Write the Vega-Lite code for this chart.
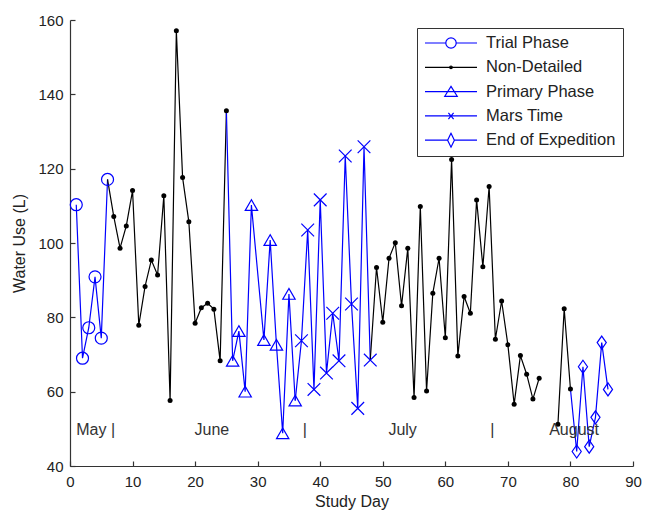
{
  "$schema": "https://vega.github.io/schema/vega-lite/v6.json",
  "width": 563,
  "height": 446,
  "autosize": {"type": "none"},
  "padding": {"left": 70, "top": 20, "right": 13, "bottom": 46},
  "background": "white",
  "config": {
    "view": {"stroke": null},
    "font": "Liberation Sans",
    "axis": {
      "domainColor": "#333",
      "tickColor": "#333",
      "labelColor": "#222",
      "titleColor": "#222",
      "labelFont": "Liberation Sans",
      "titleFont": "Liberation Sans",
      "labelFontSize": 15,
      "titleFontSize": 16,
      "titleFontWeight": "normal",
      "grid": false,
      "tickSize": -5,
      "domainWidth": 1.2,
      "tickWidth": 1.2
    }
  },
  "datasets": {
    "pts": [
      {"day": 1, "use": 110.3, "phase": "Trial Phase"},
      {"day": 2, "use": 69, "phase": "Trial Phase"},
      {"day": 3, "use": 77.2, "phase": "Trial Phase"},
      {"day": 4, "use": 90.9, "phase": "Trial Phase"},
      {"day": 5, "use": 74.4, "phase": "Trial Phase"},
      {"day": 6, "use": 117.1, "phase": "Trial Phase"},
      {"day": 7, "use": 107.1, "phase": "Non-Detailed"},
      {"day": 8, "use": 98.6, "phase": "Non-Detailed"},
      {"day": 9, "use": 104.6, "phase": "Non-Detailed"},
      {"day": 10, "use": 114.1, "phase": "Non-Detailed"},
      {"day": 11, "use": 77.9, "phase": "Non-Detailed"},
      {"day": 12, "use": 88.3, "phase": "Non-Detailed"},
      {"day": 13, "use": 95.4, "phase": "Non-Detailed"},
      {"day": 14, "use": 91.4, "phase": "Non-Detailed"},
      {"day": 15, "use": 112.7, "phase": "Non-Detailed"},
      {"day": 16, "use": 57.6, "phase": "Non-Detailed"},
      {"day": 17, "use": 157.1, "phase": "Non-Detailed"},
      {"day": 18, "use": 117.6, "phase": "Non-Detailed"},
      {"day": 19, "use": 105.7, "phase": "Non-Detailed"},
      {"day": 20, "use": 78.4, "phase": "Non-Detailed"},
      {"day": 21, "use": 82.6, "phase": "Non-Detailed"},
      {"day": 22, "use": 83.8, "phase": "Non-Detailed"},
      {"day": 23, "use": 82.2, "phase": "Non-Detailed"},
      {"day": 24, "use": 68.3, "phase": "Non-Detailed"},
      {"day": 25, "use": 135.6, "phase": "Non-Detailed"},
      {"day": 26, "use": 68.3, "phase": "Primary Phase"},
      {"day": 27, "use": 76.3, "phase": "Primary Phase"},
      {"day": 28, "use": 60, "phase": "Primary Phase"},
      {"day": 29, "use": 110.2, "phase": "Primary Phase"},
      {"day": 31, "use": 73.9, "phase": "Primary Phase"},
      {"day": 32, "use": 100.8, "phase": "Primary Phase"},
      {"day": 33, "use": 72.6, "phase": "Primary Phase"},
      {"day": 34, "use": 48.8, "phase": "Primary Phase"},
      {"day": 35, "use": 86.3, "phase": "Primary Phase"},
      {"day": 36, "use": 57.6, "phase": "Primary Phase"},
      {"day": 37, "use": 73.7, "phase": "Mars Time"},
      {"day": 38, "use": 103.5, "phase": "Mars Time"},
      {"day": 39, "use": 60.6, "phase": "Mars Time"},
      {"day": 40, "use": 111.6, "phase": "Mars Time"},
      {"day": 41, "use": 65, "phase": "Mars Time"},
      {"day": 42, "use": 81.1, "phase": "Mars Time"},
      {"day": 43, "use": 68.3, "phase": "Mars Time"},
      {"day": 44, "use": 123.4, "phase": "Mars Time"},
      {"day": 45, "use": 83.6, "phase": "Mars Time"},
      {"day": 46, "use": 55.5, "phase": "Mars Time"},
      {"day": 47, "use": 125.9, "phase": "Mars Time"},
      {"day": 48, "use": 68.5, "phase": "Mars Time"},
      {"day": 49, "use": 93.4, "phase": "Non-Detailed"},
      {"day": 50, "use": 78.7, "phase": "Non-Detailed"},
      {"day": 51, "use": 95.9, "phase": "Non-Detailed"},
      {"day": 52, "use": 100.1, "phase": "Non-Detailed"},
      {"day": 53, "use": 83.1, "phase": "Non-Detailed"},
      {"day": 54, "use": 98.6, "phase": "Non-Detailed"},
      {"day": 55, "use": 58.4, "phase": "Non-Detailed"},
      {"day": 56, "use": 109.8, "phase": "Non-Detailed"},
      {"day": 57, "use": 60.2, "phase": "Non-Detailed"},
      {"day": 58, "use": 86.5, "phase": "Non-Detailed"},
      {"day": 59, "use": 95.9, "phase": "Non-Detailed"},
      {"day": 60, "use": 74.5, "phase": "Non-Detailed"},
      {"day": 61, "use": 122.5, "phase": "Non-Detailed"},
      {"day": 62, "use": 69.6, "phase": "Non-Detailed"},
      {"day": 63, "use": 85.6, "phase": "Non-Detailed"},
      {"day": 64, "use": 81.1, "phase": "Non-Detailed"},
      {"day": 65, "use": 111.6, "phase": "Non-Detailed"},
      {"day": 66, "use": 93.6, "phase": "Non-Detailed"},
      {"day": 67, "use": 115.2, "phase": "Non-Detailed"},
      {"day": 68, "use": 74.1, "phase": "Non-Detailed"},
      {"day": 69, "use": 84.4, "phase": "Non-Detailed"},
      {"day": 70, "use": 72.6, "phase": "Non-Detailed"},
      {"day": 71, "use": 56.6, "phase": "Non-Detailed"},
      {"day": 72, "use": 69.7, "phase": "Non-Detailed"},
      {"day": 73, "use": 64.7, "phase": "Non-Detailed"},
      {"day": 74, "use": 58, "phase": "Non-Detailed"},
      {"day": 75, "use": 63.6, "phase": "Non-Detailed"},
      {"day": 78, "use": 51.2, "phase": "Non-Detailed"},
      {"day": 79, "use": 82.3, "phase": "Non-Detailed"},
      {"day": 80, "use": 60.7, "phase": "Non-Detailed"},
      {"day": 81, "use": 43.9, "phase": "End of Expedition"},
      {"day": 82, "use": 66.7, "phase": "End of Expedition"},
      {"day": 83, "use": 45.2, "phase": "End of Expedition"},
      {"day": 84, "use": 53.1, "phase": "End of Expedition"},
      {"day": 85, "use": 73.2, "phase": "End of Expedition"},
      {"day": 86, "use": 60.6, "phase": "End of Expedition"}
    ],
    "lines": [
      {"seg": "T", "phase": "Trial Phase", "day": 1, "use": 110.3},
      {"seg": "T", "phase": "Trial Phase", "day": 2, "use": 69},
      {"seg": "T", "phase": "Trial Phase", "day": 3, "use": 77.2},
      {"seg": "T", "phase": "Trial Phase", "day": 4, "use": 90.9},
      {"seg": "T", "phase": "Trial Phase", "day": 5, "use": 74.4},
      {"seg": "T", "phase": "Trial Phase", "day": 6, "use": 117.1},
      {"seg": "N1", "phase": "Non-Detailed", "day": 6, "use": 117.1},
      {"seg": "N1", "phase": "Non-Detailed", "day": 7, "use": 107.1},
      {"seg": "N1", "phase": "Non-Detailed", "day": 8, "use": 98.6},
      {"seg": "N1", "phase": "Non-Detailed", "day": 9, "use": 104.6},
      {"seg": "N1", "phase": "Non-Detailed", "day": 10, "use": 114.1},
      {"seg": "N1", "phase": "Non-Detailed", "day": 11, "use": 77.9},
      {"seg": "N1", "phase": "Non-Detailed", "day": 12, "use": 88.3},
      {"seg": "N1", "phase": "Non-Detailed", "day": 13, "use": 95.4},
      {"seg": "N1", "phase": "Non-Detailed", "day": 14, "use": 91.4},
      {"seg": "N1", "phase": "Non-Detailed", "day": 15, "use": 112.7},
      {"seg": "N1", "phase": "Non-Detailed", "day": 16, "use": 57.6},
      {"seg": "N1", "phase": "Non-Detailed", "day": 17, "use": 157.1},
      {"seg": "N1", "phase": "Non-Detailed", "day": 18, "use": 117.6},
      {"seg": "N1", "phase": "Non-Detailed", "day": 19, "use": 105.7},
      {"seg": "N1", "phase": "Non-Detailed", "day": 20, "use": 78.4},
      {"seg": "N1", "phase": "Non-Detailed", "day": 21, "use": 82.6},
      {"seg": "N1", "phase": "Non-Detailed", "day": 22, "use": 83.8},
      {"seg": "N1", "phase": "Non-Detailed", "day": 23, "use": 82.2},
      {"seg": "N1", "phase": "Non-Detailed", "day": 24, "use": 68.3},
      {"seg": "N1", "phase": "Non-Detailed", "day": 25, "use": 135.6},
      {"seg": "P", "phase": "Primary Phase", "day": 25, "use": 135.6},
      {"seg": "P", "phase": "Primary Phase", "day": 26, "use": 68.3},
      {"seg": "P", "phase": "Primary Phase", "day": 27, "use": 76.3},
      {"seg": "P", "phase": "Primary Phase", "day": 28, "use": 60},
      {"seg": "P", "phase": "Primary Phase", "day": 29, "use": 110.2},
      {"seg": "P", "phase": "Primary Phase", "day": 31, "use": 73.9},
      {"seg": "P", "phase": "Primary Phase", "day": 32, "use": 100.8},
      {"seg": "P", "phase": "Primary Phase", "day": 33, "use": 72.6},
      {"seg": "P", "phase": "Primary Phase", "day": 34, "use": 48.8},
      {"seg": "P", "phase": "Primary Phase", "day": 35, "use": 86.3},
      {"seg": "P", "phase": "Primary Phase", "day": 36, "use": 57.6},
      {"seg": "M", "phase": "Mars Time", "day": 36, "use": 57.6},
      {"seg": "M", "phase": "Mars Time", "day": 37, "use": 73.7},
      {"seg": "M", "phase": "Mars Time", "day": 38, "use": 103.5},
      {"seg": "M", "phase": "Mars Time", "day": 39, "use": 60.6},
      {"seg": "M", "phase": "Mars Time", "day": 40, "use": 111.6},
      {"seg": "M", "phase": "Mars Time", "day": 41, "use": 65},
      {"seg": "M", "phase": "Mars Time", "day": 42, "use": 81.1},
      {"seg": "M", "phase": "Mars Time", "day": 43, "use": 68.3},
      {"seg": "M", "phase": "Mars Time", "day": 44, "use": 123.4},
      {"seg": "M", "phase": "Mars Time", "day": 45, "use": 83.6},
      {"seg": "M", "phase": "Mars Time", "day": 46, "use": 55.5},
      {"seg": "M", "phase": "Mars Time", "day": 47, "use": 125.9},
      {"seg": "M", "phase": "Mars Time", "day": 48, "use": 68.5},
      {"seg": "N2", "phase": "Non-Detailed", "day": 48, "use": 68.5},
      {"seg": "N2", "phase": "Non-Detailed", "day": 49, "use": 93.4},
      {"seg": "N2", "phase": "Non-Detailed", "day": 50, "use": 78.7},
      {"seg": "N2", "phase": "Non-Detailed", "day": 51, "use": 95.9},
      {"seg": "N2", "phase": "Non-Detailed", "day": 52, "use": 100.1},
      {"seg": "N2", "phase": "Non-Detailed", "day": 53, "use": 83.1},
      {"seg": "N2", "phase": "Non-Detailed", "day": 54, "use": 98.6},
      {"seg": "N2", "phase": "Non-Detailed", "day": 55, "use": 58.4},
      {"seg": "N2", "phase": "Non-Detailed", "day": 56, "use": 109.8},
      {"seg": "N2", "phase": "Non-Detailed", "day": 57, "use": 60.2},
      {"seg": "N2", "phase": "Non-Detailed", "day": 58, "use": 86.5},
      {"seg": "N2", "phase": "Non-Detailed", "day": 59, "use": 95.9},
      {"seg": "N2", "phase": "Non-Detailed", "day": 60, "use": 74.5},
      {"seg": "N2", "phase": "Non-Detailed", "day": 61, "use": 122.5},
      {"seg": "N2", "phase": "Non-Detailed", "day": 62, "use": 69.6},
      {"seg": "N2", "phase": "Non-Detailed", "day": 63, "use": 85.6},
      {"seg": "N2", "phase": "Non-Detailed", "day": 64, "use": 81.1},
      {"seg": "N2", "phase": "Non-Detailed", "day": 65, "use": 111.6},
      {"seg": "N2", "phase": "Non-Detailed", "day": 66, "use": 93.6},
      {"seg": "N2", "phase": "Non-Detailed", "day": 67, "use": 115.2},
      {"seg": "N2", "phase": "Non-Detailed", "day": 68, "use": 74.1},
      {"seg": "N2", "phase": "Non-Detailed", "day": 69, "use": 84.4},
      {"seg": "N2", "phase": "Non-Detailed", "day": 70, "use": 72.6},
      {"seg": "N2", "phase": "Non-Detailed", "day": 71, "use": 56.6},
      {"seg": "N2", "phase": "Non-Detailed", "day": 72, "use": 69.7},
      {"seg": "N2", "phase": "Non-Detailed", "day": 73, "use": 64.7},
      {"seg": "N2", "phase": "Non-Detailed", "day": 74, "use": 58},
      {"seg": "N2", "phase": "Non-Detailed", "day": 75, "use": 63.6},
      {"seg": "N3", "phase": "Non-Detailed", "day": 78, "use": 51.2},
      {"seg": "N3", "phase": "Non-Detailed", "day": 79, "use": 82.3},
      {"seg": "N3", "phase": "Non-Detailed", "day": 80, "use": 60.7},
      {"seg": "E", "phase": "End of Expedition", "day": 80, "use": 60.7},
      {"seg": "E", "phase": "End of Expedition", "day": 81, "use": 43.9},
      {"seg": "E", "phase": "End of Expedition", "day": 82, "use": 66.7},
      {"seg": "E", "phase": "End of Expedition", "day": 83, "use": 45.2},
      {"seg": "E", "phase": "End of Expedition", "day": 84, "use": 53.1},
      {"seg": "E", "phase": "End of Expedition", "day": 85, "use": 73.2},
      {"seg": "E", "phase": "End of Expedition", "day": 86, "use": 60.6}
    ],
    "months": [
      {"day": 1, "use": 49.8, "label": "May |"},
      {"day": 19.9, "use": 49.8, "label": "June"},
      {"day": 37.2, "use": 49.8, "label": "|"},
      {"day": 50.9, "use": 49.8, "label": "July"},
      {"day": 67.2, "use": 49.8, "label": "|"},
      {"day": 76.6, "use": 49.8, "label": "August"}
    ]
  },
  "encoding": {
    "x": {
      "field": "day",
      "type": "quantitative",
      "scale": {"domain": [0, 90], "nice": false, "zero": false},
      "axis": {"title": "Study Day", "values": [0, 10, 20, 30, 40, 50, 60, 70, 80, 90], "labelPadding": 13, "titlePadding": 4, "labelFlush": false}
    },
    "y": {
      "field": "use",
      "type": "quantitative",
      "scale": {"domain": [40, 160], "nice": false, "zero": false},
      "axis": {"title": "Water Use (L)", "values": [40, 60, 80, 100, 120, 140, 160], "labelPadding": 12, "titlePadding": 10}
    }
  },
  "layer": [
    {
      "data": {"name": "lines"},
      "mark": {"type": "line", "strokeWidth": 1.2},
      "encoding": {
        "detail": {"field": "seg"},
        "order": {"field": "day"},
        "color": {
          "field": "phase",
          "type": "nominal",
          "scale": {"domain": ["Trial Phase", "Non-Detailed", "Primary Phase", "Mars Time", "End of Expedition"], "range": ["#0000ff", "#000000", "#0000ff", "#0000ff", "#0000ff"]},
          "legend": null
        }
      }
    },
    {
      "data": {"name": "pts"},
      "transform": [{"filter": "datum.phase === 'Non-Detailed'"}],
      "mark": {"type": "point", "shape": "circle", "filled": true, "color": "#000000", "size": 25, "opacity": 1}
    },
    {
      "data": {"name": "pts"},
      "transform": [{"filter": "datum.phase !== 'Non-Detailed'"}],
      "mark": {"type": "point", "filled": false, "color": "#0000ff", "strokeWidth": 1.2, "opacity": 1},
      "encoding": {
        "shape": {
          "field": "phase",
          "type": "nominal",
          "scale": {"domain": ["Trial Phase", "Primary Phase", "Mars Time", "End of Expedition"], "range": ["circle", "triangle-up", "M-1,-1L1,1M-1,1L1,-1", "M0,-1L0.7,0L0,1L-0.7,0Z"]},
          "legend": null
        },
        "size": {
          "field": "phase",
          "type": "ordinal",
          "scale": {"domain": ["Trial Phase", "Primary Phase", "Mars Time", "End of Expedition"], "range": [144, 170, 42, 160]},
          "legend": null
        }
      }
    },
    {
      "data": {"name": "months"},
      "mark": {"type": "text", "align": "left", "baseline": "middle", "fontSize": 16, "font": "Liberation Sans", "color": "#333"},
      "encoding": {"text": {"field": "label"}}
    },
    {
      "data": {"name": "pts"},
      "mark": {"type": "point", "filled": false, "opacity": 0, "strokeWidth": 1.2},
      "encoding": {
        "shape": {
          "field": "phase",
          "type": "nominal",
          "scale": {"domain": ["Trial Phase", "Non-Detailed", "Primary Phase", "Mars Time", "End of Expedition"], "range": [
            "M-1,0L-0.2,0M0.2,0L1,0M0.2,0A0.2,0.2 0 1 1 -0.2,0A0.2,0.2 0 1 1 0.2,0",
            "M-1,0L1,0M0.05,0A0.05,0.05 0 1 1 -0.05,0A0.05,0.05 0 1 1 0.05,0",
            "M-1,0L1,0M0,-0.2L0.24,0.18L-0.24,0.18Z",
            "M-1,0L1,0M-0.1,-0.12L0.1,0.12M-0.1,0.12L0.1,-0.12",
            "M-1,0L-0.13,0M0.13,0L1,0M0,-0.27L0.13,0L0,0.27L-0.13,0Z"
          ]},
          "legend": {
            "title": null,
            "orient": "none",
            "legendX": 347,
            "legendY": 8,
            "symbolSize": 2704,
            "symbolStrokeWidth": 1.2,
            "symbolOpacity": 1,
            "clipHeight": 16,
            "rowPadding": 7.3,
            "labelFontSize": 16.5,
            "labelFont": "Liberation Sans",
            "labelColor": "#222",
            "labelOffset": 8,
            "padding": 7,
            "strokeColor": "#333",
            "fillColor": "white",
            "cornerRadius": 0
          }
        },
        "color": {
          "field": "phase",
          "type": "nominal",
          "scale": {"domain": ["Trial Phase", "Non-Detailed", "Primary Phase", "Mars Time", "End of Expedition"], "range": ["#0000ff", "#000000", "#0000ff", "#0000ff", "#0000ff"]}
        }
      }
    }
  ],
  "resolve": {"scale": {"color": "independent", "shape": "independent", "size": "independent"}}
}
